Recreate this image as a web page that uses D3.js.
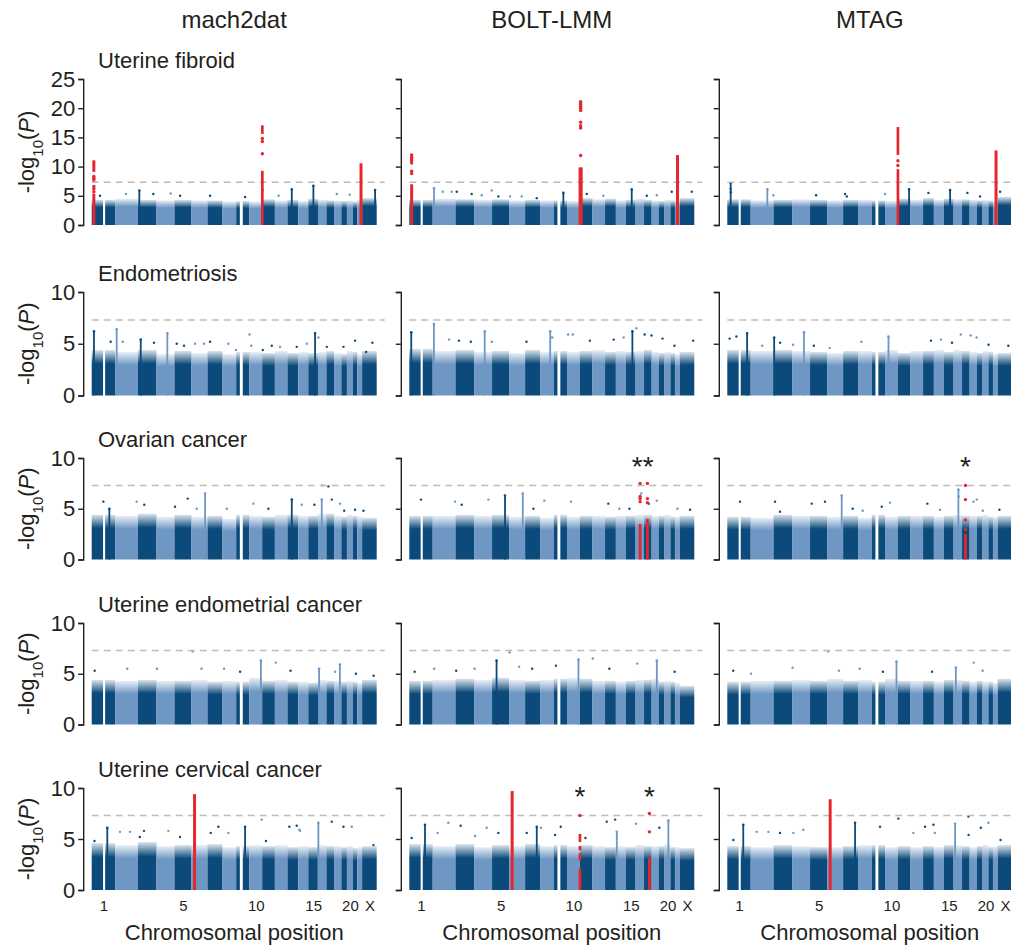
<!DOCTYPE html>
<html lang="en">
<head>
<meta charset="UTF-8">
<title>Manhattan plots - gynecological traits</title>
<script src="https://d3js.org/d3.v7.min.js"></script>
<style>
  body { margin: 0; background: #fff; font-family: "Liberation Sans", Arial, Helvetica, sans-serif; }
  text { fill: #231f20; }
  .axis path, .axis line { stroke: #231f20; stroke-width: 1.4px; }
  .axis text { font-size: 22px; font-family: "Liberation Sans", Arial, sans-serif; fill: #231f20; }
  .xaxis text { font-size: 15px; }
</style>
</head>
<body>
<div id="chart"></div>
<script>
// ---- categories ----
const methods = ["mach2dat", "BOLT-LMM", "MTAG"];
const traits = ["Uterine fibroid", "Endometriosis", "Ovarian cancer",
                "Uterine endometrial cancer", "Uterine cervical cancer"];
const yMaxByTrait = [25, 10, 10, 10, 10];
const yTicksByTrait = [[0, 5, 10, 15, 20, 25], [0, 5, 10], [0, 5, 10], [0, 5, 10], [0, 5, 10]];
const gwsThreshold = 7.3;

// chromosome lengths (Mb) and names
const chromNames = ["1","2","3","4","5","6","7","8","9","10","11","12","13","14","15","16","17","18","19","20","21","22","X"];
const chromLengthsMb = [249,243,198,191,181,171,159,146,141,136,135,134,115,107,103,90,81,78,59,63,48,51,155];
const chromGapsMb = [[1, 121, 143], [9, 39, 70]];   // regions without markers
const xTickChroms = ["1", "5", "10", "15", "20", "X"];

// ---- per-panel values: body top per chromosome (-log10 P) ----
const bodyR1C1 = [4.3,4.5,4.3,4.2,4.3,4.2,4.2,4.0,4.1,4.0,4.4,4.2,4.3,4.1,4.5,4.3,4.2,4.2,4.1,4.2,4.0,4.3,4.6];
const bodyR1C2 = [4.3,4.5,4.4,4.3,4.4,4.2,4.3,4.2,4.2,4.1,4.6,4.4,4.5,4.2,4.3,4.5,4.3,4.2,4.1,4.3,4.2,4.2,4.6];
const bodyR1C3 = [4.4,4.2,4.3,4.4,4.3,4.2,4.3,4.3,4.2,4.1,4.5,4.3,4.6,4.3,4.5,4.4,4.4,4.3,4.2,4.3,4.2,4.1,4.8];
const bodyR2C1 = [4.4,4.2,4.4,4.0,4.3,4.1,4.3,4.0,4.2,4.2,4.1,4.3,4.1,4.2,4.1,4.2,4.3,4.1,4.0,4.3,4.2,4.0,4.3];
const bodyR2C2 = [4.5,4.3,4.4,4.2,4.3,4.1,4.4,4.2,4.3,4.2,4.3,4.4,4.2,4.3,4.2,4.3,4.4,4.2,4.1,4.2,4.1,4.0,4.2];
const bodyR2C3 = [4.4,4.3,4.4,4.3,4.2,4.1,4.3,4.3,4.2,4.4,4.1,4.3,4.3,4.4,4.2,4.4,4.3,4.2,4.1,4.3,4.2,4.0,4.1];
const bodyR3C1 = [4.4,4.3,4.5,4.2,4.4,4.2,4.3,4.0,4.4,4.3,4.2,4.4,4.4,4.3,4.3,4.5,4.5,4.3,4.2,4.4,4.3,4.2,4.1];
const bodyR3C2 = [4.3,4.3,4.4,4.3,4.4,4.2,4.3,4.1,4.4,4.2,4.3,4.3,4.2,4.3,4.3,4.4,4.4,4.3,4.3,4.4,4.2,4.2,4.3];
const bodyR3C3 = [4.2,4.1,4.4,4.3,4.3,4.2,4.3,4.1,4.4,4.2,4.3,4.3,4.3,4.2,4.3,4.4,4.3,4.3,4.3,4.4,4.2,4.2,4.3];
const bodyR4C1 = [4.4,4.3,4.4,4.3,4.3,4.4,4.2,4.3,4.2,4.6,4.3,4.4,4.2,4.2,4.1,4.4,4.3,4.3,4.2,4.3,4.2,4.1,4.4];
const bodyR4C2 = [4.3,4.4,4.5,4.4,4.6,4.4,4.3,4.4,4.5,4.6,4.5,4.3,4.3,4.2,4.3,4.4,4.4,4.5,4.2,4.3,4.2,4.1,3.8];
const bodyR4C3 = [4.2,4.3,4.3,4.4,4.3,4.5,4.3,4.4,4.2,4.5,4.3,4.3,4.3,4.2,4.4,4.4,4.3,4.2,4.3,4.2,4.2,4.1,4.5];
const bodyR5C1 = [4.6,4.4,4.7,4.3,4.4,4.4,4.5,4.2,4.3,4.4,4.3,4.4,4.2,4.3,4.2,4.4,4.3,4.3,4.2,4.3,4.1,4.2,4.3];
const bodyR5C2 = [4.5,4.3,4.5,4.2,4.4,4.3,4.5,4.3,4.4,4.3,4.4,4.3,4.2,4.3,4.2,4.4,4.3,4.3,4.3,4.5,4.2,4.2,4.1];
const bodyR5C3 = [4.3,4.2,4.4,4.3,4.2,4.2,4.3,4.4,4.4,4.2,4.3,4.2,4.3,4.2,4.4,4.4,4.3,4.2,4.3,4.4,4.2,4.3,4.4];

// ---- peak towers [chrom, Mb, -log10 P] ----
const towersR1C1 = [[3,15,5.9],[13,46,6.1],[15,54,6.7],[23,138,6.0]];
const towersR1C2 = [[2,14,6.3],[15,62,6.1],[9,102,5.5]];
const towersR1C3 = [[1,36,7.2],[11,120,6.1],[15,66,6.0],[2,177,6.1]];
const towersR2C1 = [[1,24,6.2],[2,17,6.4],[4,115,6.0],[15,72,6.0],[3,30,5.4]];
const towersR2C2 = [[1,21,6.1],[2,13,6.9],[4,113,6.2],[15,69,6.2],[8,108,6.2]];
const towersR2C3 = [[1,211,6.0],[3,7,5.6],[4,126,6.1],[10,37,5.7]];
const towersR3C1 = [[1,188,5.0],[6,145,6.5],[13,46,5.9],[16,40,5.9]];
const towersR3C2 = [[5,138,6.3],[6,146,6.5]];
const towersR3C3 = [[6,156,6.3],[16,51,6.9]];
const towersR4C1 = [[10,122,6.3],[16,12,5.5],[18,62,5.9]];
const towersR4C2 = [[5,48,6.3],[10,122,6.4],[18,55,6.3]];
const towersR4C3 = [[10,122,6.2],[16,24,5.6]];
const towersR5C1 = [[1,166,6.1],[16,4,6.6],[9,95,6.2]];
const towersR5C2 = [[1,167,6.4],[7,124,6.2],[14,10,5.7],[20,41,6.8]];
const towersR5C3 = [[1,170,6.4],[7,127,6.6],[16,16,6.5]];

// ---- isolated points [chrom, Mb, -log10 P] ----
const dotsR1C1 = [[1,88,5.0],[2,116,5.3],[3,164,5.3],[4,151,5.4],[5,60,5.0],[7,27,5.0],[9,95,4.8],[11,3,6.0],[18,29,5.3],[12,40,5.0],[20,30,5.2]];
const dotsR1C2 = [[2,107,5.7],[2,202,5.7],[3,13,5.7],[3,172,5.3],[4,81,5.1],[4,187,5.9],[5,67,4.9],[6,10,4.9],[6,135,4.9],[7,124,4.6],[11,74,5.3],[12,116,5.0],[17,29,5.0],[18,55,5.1],[21,14,5.7],[23,128,5.7]];
const dotsR1C3 = [[1,36,6.2],[1,38,5.6],[2,241,5.1],[5,64,5.1],[7,20,5.3],[7,40,4.9],[10,1,5.3],[13,57,5.5],[17,57,5.5],[19,33,4.9],[23,25,5.7]];
const dotsR2C1 = [[1,202,5.2],[2,81,5.2],[3,171,5.1],[5,24,5.0],[5,102,4.8],[6,38,5.0],[6,134,5.0],[7,27,5.2],[8,63,5.0],[8,145,4.4],[10,1,5.9],[10,20,4.8],[11,6,4.4],[11,102,4.8],[12,55,4.7],[13,99,4.7],[14,91,5.0],[16,4,5.6],[17,4,4.7],[19,22,4.7],[21,24,5.3],[23,42,4.2],[23,109,5.1]];
const dotsR2C2 = [[2,174,5.4],[3,36,5.3],[3,163,5.2],[4,189,5.2],[7,14,5.2],[8,129,5.6],[10,11,5.9],[10,62,5.9],[11,108,5.3],[13,92,5.4],[14,83,5.6],[16,8,6.5],[17,7,5.9],[17,79,5.8],[19,38,5.5],[21,43,4.8],[23,143,5.3]];
const dotsR2C3 = [[1,25,5.5],[1,97,5.7],[2,123,4.8],[3,70,5.1],[4,11,4.9],[5,40,4.8],[6,28,4.6],[8,36,5.2],[13,84,5.3],[14,75,5.4],[15,86,5.1],[16,76,5.9],[18,11,5.8],[18,74,5.6],[21,1,4.9],[23,113,4.8]];
const dotsR3C1 = [[1,124,5.7],[2,230,5.7],[3,68,5.4],[5,6,5.2],[5,141,6.0],[6,56,5.0],[8,46,5.0],[10,42,5.5],[11,66,5.0],[14,37,5.4],[15,65,5.4],[16,47,7.3],[17,21,7.2],[17,57,5.9],[18,64,5.5],[19,30,4.8],[21,24,4.9],[23,14,4.8]];
const dotsR3C2 = [[1,125,5.9],[2,238,5.7],[3,66,5.4],[4,152,5.9],[7,88,5.0],[8,46,5.8],[10,43,5.7],[13,35,5.5],[14,37,5.0],[15,37,5.0],[16,60,6.5],[17,50,5.5],[18,55,5.8],[22,26,5.0],[23,110,4.9]];
const dotsR3C3 = [[1,135,5.7],[3,16,5.7],[3,69,4.7],[5,18,5.5],[5,159,5.7],[7,102,5.0],[8,50,4.8],[9,106,5.2],[10,54,5.6],[13,46,5.5],[14,66,4.9],[16,55,6.2],[18,40,5.7],[18,76,5.9],[20,3,4.8],[23,18,4.9]];
const dotsR4C1 = [[1,32,5.3],[2,130,5.5],[4,5,5.5],[6,12,7.2],[6,107,5.5],[8,17,5.5],[9,42,5.2],[12,9,6.1],[13,33,5.3],[18,11,5.2],[21,32,5.0],[23,123,4.8]];
const dotsR4C2 = [[1,57,5.2],[2,16,5.5],[3,7,5.3],[4,5,5.5],[6,6,7.1],[6,107,5.7],[7,75,5.5],[9,23,5.8],[12,3,6.5],[13,46,5.5],[16,18,6.0],[21,45,5.2]];
const dotsR4C3 = [[1,63,5.3],[2,4,5.0],[4,5,5.6],[6,12,7.2],[6,126,5.3],[8,17,5.5],[9,118,5.2],[13,96,5.2],[18,43,6.1],[20,1,5.3]];
const dotsR5C1 = [[1,30,4.8],[2,52,5.7],[2,159,5.7],[3,65,5.8],[3,20,5.2],[4,126,5.8],[5,59,5.2],[7,34,5.6],[7,115,6.2],[8,63,5.6],[10,131,6.9],[11,40,4.8],[13,20,6.2],[13,99,6.3],[14,10,5.9],[14,20,5.8],[17,57,6.7],[19,22,6.2],[20,52,6.2],[23,120,4.4]];
const dotsR5C2 = [[1,25,5.1],[2,53,5.6],[2,166,6.6],[3,55,6.3],[4,10,5.3],[4,134,6.1],[5,67,5.6],[7,17,5.6],[8,10,6.1],[9,14,5.4],[9,74,6.2],[11,60,5.1],[13,18,6.7],[13,107,6.9],[16,5,6.5],[19,4,6.1]];
const dotsR5C3 = [[1,64,4.9],[2,64,5.7],[2,188,5.7],[3,69,5.6],[4,13,5.6],[4,119,5.9],[9,88,6.2],[11,6,7.0],[12,31,5.6],[13,21,6.2],[13,110,6.4],[14,10,5.6],[17,68,7.2],[17,70,5.4],[19,41,6.1],[20,63,6.6],[23,30,4.9]];

// ---- highlighted loci [chrom, fromMb, toMb, dense ranges, single points] ----
const hitsR1C1 = [[1,20,26,[[0,5.2],[9.1,10.9]],[5.7,6.2,6.6,7.7,8.0,8.3]],
                  [11,0,3,[[0,9.1],[15.6,16.9]],[12.2,14.3,14.8]],
                  [22,36,42,[[0,10.4]],[]]];
const hitsR1C2 = [[1,22,28,[[0,6.8]],[8.8,9.2,10.6,11.0,11.3,11.6,12.0]],
                  [11,0,18,[[0,9.7]],[11.9,16.6,17.0,17.6,19.6,20.0,20.3,20.6,20.9,21.1]],
                  [22,24,30,[[0,11.8]],[]]];
const hitsR1C3 = [[11,0,3,[[0,9.4],[12.0,16.6]],[10.2,11.0]],
                  [22,30,36,[[0,12.6]],[]]];
const hitsR3C2 = [[16,46,50,[[0,3.4]],[5.7,6.0,6.2,7.5]],
                  [17,34,38,[[0,3.9]],[5.6,6.0,7.5]]];
const hitsR3C3 = [[17,34,38,[[0,2.4]],[2.95,3.9,5.9,7.3]]];
const hitsR5C1 = [[6,30,36,[[0,9.3]],[]]];
const hitsR5C2 = [[6,30,36,[[0,9.6]],[]],
                  [11,0,3,[[0,2.0],[2.9,3.5],[3.9,4.2],[4.7,5.4]],[7.3]],
                  [17,55,59,[[0,3.1]],[5.7,7.5]]];
const hitsR5C3 = [[6,30,36,[[0,8.8]],[]]];

// asterisk marks [traitIdx, methodIdx, chrom, Mb, label]
const sigMarks = [[2,1,16,75,"**"],[2,2,17,36,"*"],[4,1,11,1,"*"],[4,1,17,57,"*"]];

// ---- panel table ----
const panelBodies = [[bodyR1C1,bodyR1C2,bodyR1C3],[bodyR2C1,bodyR2C2,bodyR2C3],[bodyR3C1,bodyR3C2,bodyR3C3],[bodyR4C1,bodyR4C2,bodyR4C3],[bodyR5C1,bodyR5C2,bodyR5C3]];
const panelTowers = [[towersR1C1,towersR1C2,towersR1C3],[towersR2C1,towersR2C2,towersR2C3],[towersR3C1,towersR3C2,towersR3C3],[towersR4C1,towersR4C2,towersR4C3],[towersR5C1,towersR5C2,towersR5C3]];
const panelDots = [[dotsR1C1,dotsR1C2,dotsR1C3],[dotsR2C1,dotsR2C2,dotsR2C3],[dotsR3C1,dotsR3C2,dotsR3C3],[dotsR4C1,dotsR4C2,dotsR4C3],[dotsR5C1,dotsR5C2,dotsR5C3]];
const panelHits = [[hitsR1C1,hitsR1C2,hitsR1C3],[[],[],[]],[[],hitsR3C2,hitsR3C3],[[],[],[]],[hitsR5C1,hitsR5C2,hitsR5C3]];

// ---- layout ----
const W = 1011, H = 947;
const colX0 = [91.7, 409.3, 727.3], plotW = 285;
const rowTop = [79, 292, 458, 623, 788];
const rowBottom = [225, 395.5, 559.5, 724.5, 890];
const darkBlue = "#0b4a7b", lightBlue = "#6e97c4", red = "#e5262c";

const cumStart = [];
chromLengthsMb.reduce((acc, len, i) => { cumStart[i] = acc; return acc + len; }, 0);
const genomeLen = d3.sum(chromLengthsMb);
const cumPos = (chr, mb) => cumStart[chr - 1] + mb;
const chromColor = chr => (chr % 2 === 1 ? darkBlue : lightBlue);

const svg = d3.select("#chart").append("svg")
  .attr("width", W).attr("height", H);

// fading top for the dense point clouds
const defs = svg.append("defs");
[["gDark", darkBlue], ["gLight", lightBlue]].forEach(([id, col]) => {
  const g = defs.append("linearGradient").attr("id", id)
    .attr("x1", 0).attr("y1", 0).attr("x2", 0).attr("y2", 1);
  g.append("stop").attr("offset", 0).attr("stop-color", col).attr("stop-opacity", 0.15);
  g.append("stop").attr("offset", 0.3).attr("stop-color", col).attr("stop-opacity", 1);
  g.append("stop").attr("offset", 1).attr("stop-color", col).attr("stop-opacity", 1);
});

// column headers
methods.forEach((m, c) => {
  svg.append("text")
    .attr("x", colX0[c] + plotW / 2).attr("y", 28)
    .attr("text-anchor", "middle")
    .style("font-size", "24px")
    .text(m);
});

// chromosome segments (without gaps)
function chromSegments(i) {
  const chr = i + 1;
  let segs = [[0, chromLengthsMb[i]]];
  chromGapsMb.filter(g => g[0] === chr).forEach(g => {
    segs = segs.flatMap(s => (g[1] > s[0] && g[2] < s[1]) ? [[s[0], g[1]], [g[2], s[1]]] : [s]);
  });
  return segs;
}

traits.forEach((trait, r) => {
  const y = d3.scaleLinear().domain([0, yMaxByTrait[r]]).range([rowBottom[r], rowTop[r]]);

  // trait title
  svg.append("text")
    .attr("x", 98).attr("y", rowTop[r] - 11)
    .style("font-size", "22px")
    .text(trait);

  // y label
  const yl = svg.append("text")
    .attr("transform", `translate(34,${(rowTop[r] + rowBottom[r]) / 2}) rotate(-90)`)
    .attr("text-anchor", "middle")
    .style("font-size", "22px");
  yl.append("tspan").text("-log");
  yl.append("tspan").attr("baseline-shift", "sub").style("font-size", "15px").text("10");
  yl.append("tspan").text("(");
  yl.append("tspan").style("font-style", "italic").text("P");
  yl.append("tspan").text(")");

  methods.forEach((m, c) => {
    const x = d3.scaleLinear().domain([0, genomeLen]).range([colX0[c], colX0[c] + plotW]);
    const g = svg.append("g");
    const body = panelBodies[r][c];

    // dense body per chromosome
    chromLengthsMb.forEach((len, i) => {
      chromSegments(i).forEach(s => {
        g.append("rect")
          .attr("x", x(cumStart[i] + s[0]))
          .attr("width", x(cumStart[i] + s[1]) - x(cumStart[i] + s[0]))
          .attr("y", y(body[i]))
          .attr("height", y(0) - y(body[i]))
          .attr("fill", (i + 1) % 2 === 1 ? "url(#gDark)" : "url(#gLight)");
      });
    });

    // towers
    panelTowers[r][c].forEach(([chr, mb, v]) => {
      g.append("rect")
        .attr("x", x(cumPos(chr, mb)) - 0.9).attr("width", 1.8)
        .attr("y", y(v)).attr("height", y(0) - y(v))
        .attr("fill", chromColor(chr));
      g.append("circle").attr("cx", x(cumPos(chr, mb))).attr("cy", y(v))
        .attr("r", 1.3).attr("fill", chromColor(chr));
    });

    // isolated points
    panelDots[r][c].forEach(([chr, mb, v]) => {
      g.append("circle").attr("cx", x(cumPos(chr, mb))).attr("cy", y(v))
        .attr("r", 1.2).attr("fill", chromColor(chr));
    });

    // genome-wide significance line
    g.append("line")
      .attr("x1", colX0[c]).attr("x2", colX0[c] + plotW + 8)
      .attr("y1", y(gwsThreshold)).attr("y2", y(gwsThreshold))
      .attr("stroke", "#bdbdbd").attr("stroke-width", 1.5)
      .attr("stroke-dasharray", "7,5");

    // highlighted loci
    panelHits[r][c].forEach(([chr, from, to, segs, pts]) => {
      const xa = x(cumPos(chr, from)) - 1.2, xb = x(cumPos(chr, to)) + 1.2;
      segs.forEach(([lo, hi]) => {
        g.append("rect")
          .attr("x", xa).attr("width", xb - xa)
          .attr("y", y(hi) - 1).attr("height", y(lo) - y(hi) + 1)
          .attr("fill", red);
      });
      pts.forEach(v => {
        g.append("circle").attr("cx", (xa + xb) / 2).attr("cy", y(v))
          .attr("r", 1.7).attr("fill", red);
      });
    });

    // y axis
    const yAxis = d3.axisLeft(y).tickValues(yTicksByTrait[r])
      .tickSize(5).tickSizeOuter(5).tickPadding(3);
    if (c > 0) yAxis.tickFormat("");
    svg.append("g").attr("class", "axis")
      .attr("transform", `translate(${colX0[c] - 8.5},0)`)
      .call(yAxis);

    // significance asterisks
    sigMarks.filter(s => s[0] === r && s[1] === c).forEach(([, , chr, mb, lab]) => {
      svg.append("text")
        .attr("x", x(cumPos(chr, mb))).attr("y", rowTop[r] + 18)
        .attr("text-anchor", "middle")
        .style("font-size", "28px")
        .text(lab);
    });

    // x axis on bottom row
    if (r === traits.length - 1) {
      const tickIdx = xTickChroms.map(n => chromNames.indexOf(n));
      const xAxis = d3.axisBottom(x)
        .tickValues(tickIdx.map(i => cumStart[i] + chromLengthsMb[i] / 2))
        .tickFormat((d, k) => xTickChroms[k])
        .tickSize(0).tickPadding(6);
      const ax = svg.append("g").attr("class", "axis xaxis")
        .attr("transform", `translate(0,${rowBottom[r] + 4})`)
        .call(xAxis);
      ax.select(".domain").remove();

      svg.append("text")
        .attr("x", colX0[c] + plotW / 2).attr("y", 940)
        .attr("text-anchor", "middle")
        .style("font-size", "22px")
        .text("Chromosomal position");
    }
  });
});
</script>
</body>
</html>
